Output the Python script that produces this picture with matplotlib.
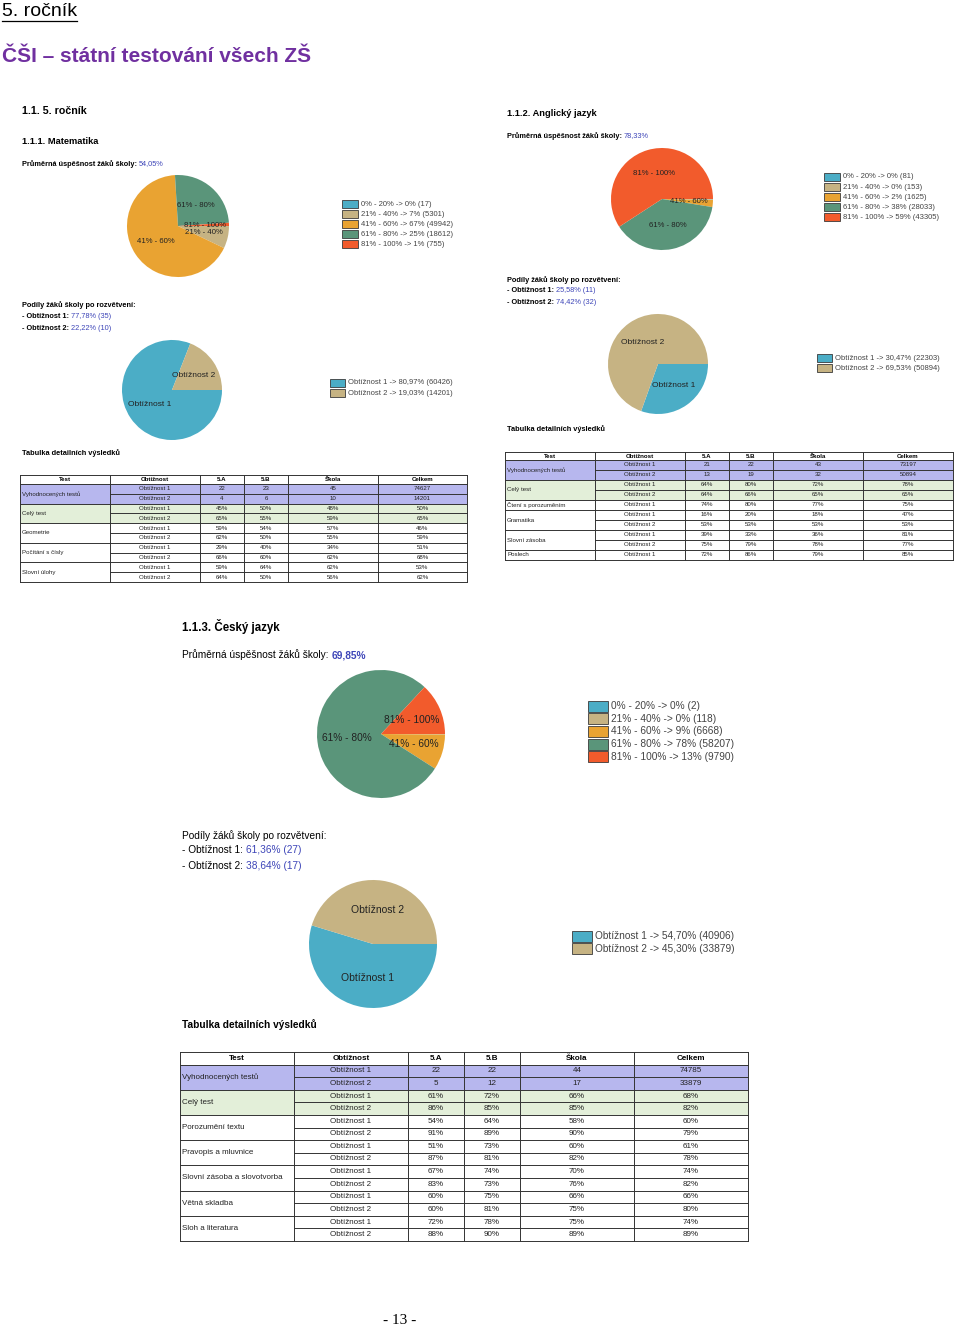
import matplotlib
matplotlib.use("Agg")
import matplotlib.pyplot as plt
from matplotlib.patches import Rectangle

plt.rcParams['font.family'] = ['Liberation Sans', 'DejaVu Sans']

# ---- data ----
bands = ["0% - 20%", "21% - 40%", "41% - 60%", "61% - 80%", "81% - 100%"]
levels = ["Obtížnost 1", "Obtížnost 2"]

mat_avg = "54,05%"
mat_bands = [17, 5301, 49942, 18612, 755]
mat_school = [35, 10]
mat_levels = [60426, 14201]

aj_avg = "78,33%"
aj_bands = [81, 153, 1625, 28033, 43305]
aj_school = [11, 32]
aj_levels = [22303, 50894]

cj_avg = "69,85%"
cj_bands = [2, 118, 6668, 58207, 9790]
cj_school = [27, 17]
cj_levels = [40906, 33879]

tab_cols = ["Test", "Obtížnost", "5.A", "5.B", "Škola", "Celkem"]

mat_tests = ["Vyhodnocených testů", "Celý test", "Geometrie", "Počítání s čísly", "Slovní úlohy"]
mat_span = [2, 2, 2, 2, 2]
mat_lvl = [1, 2, 1, 2, 1, 2, 1, 2, 1, 2]
mat_5a = [22, 4, 45, 65, 59, 62, 29, 66, 59, 64]
mat_5b = [23, 6, 50, 55, 54, 50, 40, 60, 64, 50]
mat_skola = [45, 10, 48, 59, 57, 55, 34, 62, 62, 56]
mat_celkem = [74627, 14201, 50, 65, 46, 59, 51, 68, 53, 62]

aj_tests = ["Vyhodnocených testů", "Celý test", "Čtení s porozuměním", "Gramatika", "Slovní zásoba", "Poslech"]
aj_span = [2, 2, 1, 2, 2, 1]
aj_lvl = [1, 2, 1, 2, 1, 1, 2, 1, 2, 1]
aj_5a = [21, 13, 64, 64, 74, 16, 53, 39, 75, 72]
aj_5b = [22, 19, 80, 66, 80, 20, 53, 33, 79, 86]
aj_skola = [43, 32, 72, 65, 77, 18, 53, 36, 78, 79]
aj_celkem = [73197, 50894, 78, 65, 75, 47, 53, 81, 77, 85]

cj_tests = ["Vyhodnocených testů", "Celý test", "Porozumění textu", "Pravopis a mluvnice",
            "Slovní zásoba a slovotvorba", "Větná skladba", "Sloh a literatura"]
cj_span = [2, 2, 2, 2, 2, 2, 2]
cj_lvl = [1, 2] * 7
cj_5a = [22, 5, 61, 86, 54, 91, 51, 87, 67, 83, 60, 60, 72, 88]
cj_5b = [22, 12, 72, 85, 64, 89, 73, 81, 74, 73, 75, 81, 78, 90]
cj_skola = [44, 17, 66, 85, 58, 90, 60, 82, 70, 76, 66, 75, 75, 89]
cj_celkem = [74785, 33879, 68, 82, 60, 79, 61, 78, 74, 82, 66, 80, 74, 89]

band_colors = ['#4badc6', '#c6b383', '#e9a332', '#5a957a', '#f25b2c']
level_colors = ['#4badc6', '#c6b383']
blue = '#3d45b8'
purple = '#7030a0'

# ---- page ----
W, H = 960, 1328
fig = plt.figure(figsize=(W / 100, H / 100), dpi=100)
pg = fig.add_axes([0, 0, 1, 1])
pg.set_xlim(0, W)
pg.set_ylim(H, 0)
pg.axis('off')
rend = fig.canvas.get_renderer()


def runs(x, y, parts, fs):
    # several pieces of text on one line, each with own colour / weight
    for txt, color, weight in parts:
        t = pg.text(x, y, txt, fontsize=fs, color=color, fontweight=weight, va='center')
        x += t.get_window_extent(renderer=rend).width + 0.28 * fs * 100 / 72
    return x


def pie(cx, cy, r, vals, colors, labels, fs):
    ax = fig.add_axes([(cx - r) / W, 1 - (cy + r) / H, 2 * r / W, 2 * r / H])
    tot = sum(vals)
    lab = [l if v / tot >= 0.005 else '' for l, v in zip(labels, vals)]
    ax.pie(vals, colors=colors, labels=lab, labeldistance=0.53, startangle=0,
           counterclock=False, radius=1,
           textprops=dict(fontsize=fs, ha='center', va='center', color='#222'))
    ax.set_xlim(-1, 1)
    ax.set_ylim(-1, 1)


def legend(x, y, dy, sw, sh, texts, colors, fs):
    for i, (t, c) in enumerate(zip(texts, colors)):
        yy = y + i * dy
        pg.add_patch(Rectangle((x, yy - sh / 2), sw, sh, fc=c, ec='#3a3a3a', lw=0.6))
        pg.text(x + sw + 3, yy, t, fontsize=fs, va='center', color='#444')


def band_texts(vals):
    tot = sum(vals)
    return ["%s -> %d%% (%d)" % (b, round(100 * v / tot), v) for b, v in zip(bands, vals)]


def level_texts(vals):
    tot = sum(vals)
    return [("%s -> %.2f%% (%d)" % (l, 100 * v / tot, v)).replace('.', ',', 1)
            for l, v in zip(levels, vals)]


def school_lines(x, y, dy, vals, fs, wt):
    tot = sum(vals)
    for i, (l, v) in enumerate(zip(levels, vals)):
        val = ("%.2f%% (%d)" % (100 * v / tot, v)).replace('.', ',')
        runs(x, y + i * dy, [("- " + l + ":", 'black', wt), (val, blue, 'normal')], fs)


def table(x0, y0, widths, hh, rh, tests, spans, lvl, cols, fs):
    ex = [x0]
    for w in widths:
        ex.append(ex[-1] + w)
    x1 = ex[-1]
    y1 = y0 + hh + sum(spans) * rh
    lc, lw = '#333333', 0.7
    fills = ['#b7b7ee', '#e3efd9']
    r = 0
    for gi, (name, n) in enumerate(zip(tests, spans)):
        gy = y0 + hh + r * rh
        fc = fills[gi] if gi < len(fills) else 'white'
        pg.add_patch(Rectangle((x0, gy), x1 - x0, n * rh, fc=fc, ec='none'))
        pg.text(x0 + 2, gy + n * rh / 2, name, fontsize=fs, va='center', color='#222')
        pg.plot([x0, x1], [gy, gy], color=lc, lw=lw)
        for k in range(1, n):
            pg.plot([ex[1], x1], [gy + k * rh, gy + k * rh], color=lc, lw=lw)
        r += n
    for e in ex:
        pg.plot([e, e], [y0, y1], color=lc, lw=lw)
    pg.plot([x0, x1], [y0, y0], color=lc, lw=lw)
    pg.plot([x0, x1], [y1, y1], color=lc, lw=lw)
    for j, c in enumerate(tab_cols):
        pg.text((ex[j] + ex[j + 1]) / 2, y0 + hh / 2, c, fontsize=fs, fontweight='bold',
                ha='center', va='center')
    for i in range(sum(spans)):
        yy = y0 + hh + (i + 0.5) * rh
        cells = ["Obtížnost %d" % lvl[i]]
        for col in cols:
            cells.append(str(col[i]) if i < spans[0] else "%d%%" % col[i])
        for j, s in enumerate(cells):
            pg.text((ex[j + 1] + ex[j + 2]) / 2, yy, s, fontsize=fs, ha='center',
                    va='center', color='#222')


# page header
t = pg.text(2, 11, "5. ročník", fontsize=14, va='center')
wt = t.get_window_extent(renderer=rend).width
pg.plot([2, 2 + wt], [20.5, 20.5], color='black', lw=0.9)
pg.text(2, 56, "ČŠI – státní testování všech ZŠ", fontsize=15, fontweight='bold',
        color=purple, va='center')

# ---- Matematika ----
fs_s = 5.3
pg.text(22, 111, "1.1. 5. ročník", fontsize=7.7, fontweight='bold', va='center')
pg.text(22, 141, "1.1.1. Matematika", fontsize=6.7, fontweight='bold', va='center')
runs(22, 164, [("Průměrná úspěšnost žáků školy:", 'black', 'bold'), (mat_avg, blue, 'normal')], fs_s)
pie(178, 226, 51, mat_bands, band_colors, bands, 5.6)
legend(342, 204, 10.1, 16, 8, band_texts(mat_bands), band_colors, 5.5)
pg.text(22, 305, "Podíly žáků školy po rozvětvení:", fontsize=fs_s, fontweight='bold', va='center')
school_lines(22, 317, 12, mat_school, fs_s, 'bold')
pie(172, 390, 50, mat_levels, level_colors, levels, 6)
legend(330, 383, 10.3, 15, 8, level_texts(mat_levels), level_colors, 5.5)
pg.text(22, 453, "Tabulka detailních výsledků", fontsize=fs_s, fontweight='bold', va='center')
table(20, 475, [90, 90, 44, 44, 90, 89], 9, 9.8, mat_tests, mat_span, mat_lvl,
      [mat_5a, mat_5b, mat_skola, mat_celkem], 4.4)

# ---- Anglický jazyk ----
pg.text(507, 113, "1.1.2. Anglický jazyk", fontsize=6.7, fontweight='bold', va='center')
runs(507, 136, [("Průměrná úspěšnost žáků školy:", 'black', 'bold'), (aj_avg, blue, 'normal')], fs_s)
pie(662, 199, 51, aj_bands, band_colors, bands, 5.6)
legend(824, 177, 10.1, 16, 8, band_texts(aj_bands), band_colors, 5.5)
pg.text(507, 280, "Podíly žáků školy po rozvětvení:", fontsize=fs_s, fontweight='bold', va='center')
school_lines(507, 291, 12, aj_school, fs_s, 'bold')
pie(658, 364, 50, aj_levels, level_colors, levels, 6)
legend(817, 358, 10.3, 15, 8, level_texts(aj_levels), level_colors, 5.5)
pg.text(507, 429, "Tabulka detailních výsledků", fontsize=fs_s, fontweight='bold', va='center')
table(505, 452, [90, 90, 44, 44, 90, 90], 8, 10, aj_tests, aj_span, aj_lvl,
      [aj_5a, aj_5b, aj_skola, aj_celkem], 4.4)

# ---- Český jazyk ----
fs_m = 7.3
pg.text(182, 626, "1.1.3. Český jazyk", fontsize=8.3, fontweight='bold', va='center')
runs(182, 655, [("Průměrná úspěšnost žáků školy:", 'black', 'normal'), (cj_avg, blue, 'bold')], fs_m)
pie(381, 734, 64, cj_bands, band_colors, bands, 7.3)
legend(588, 706, 12.7, 20, 11, band_texts(cj_bands), band_colors, 7.3)
pg.text(182, 836, "Podíly žáků školy po rozvětvení:", fontsize=fs_m, va='center')
school_lines(182, 850, 16, cj_school, fs_m, 'normal')
pie(373, 944, 64, cj_levels, level_colors, levels, 7.5)
legend(572, 936, 12.5, 20, 11, level_texts(cj_levels), level_colors, 7.3)
pg.text(182, 1025, "Tabulka detailních výsledků", fontsize=fs_m, fontweight='bold', va='center')
table(180, 1052, [114, 114, 56, 56, 114, 114], 12.5, 12.6, cj_tests, cj_span, cj_lvl,
      [cj_5a, cj_5b, cj_skola, cj_celkem], 5.8)

pg.text(400, 1321, "- 13 -", fontsize=11, family='Liberation Serif', ha='center', va='center')

fig.savefig("out.png", dpi=100)
